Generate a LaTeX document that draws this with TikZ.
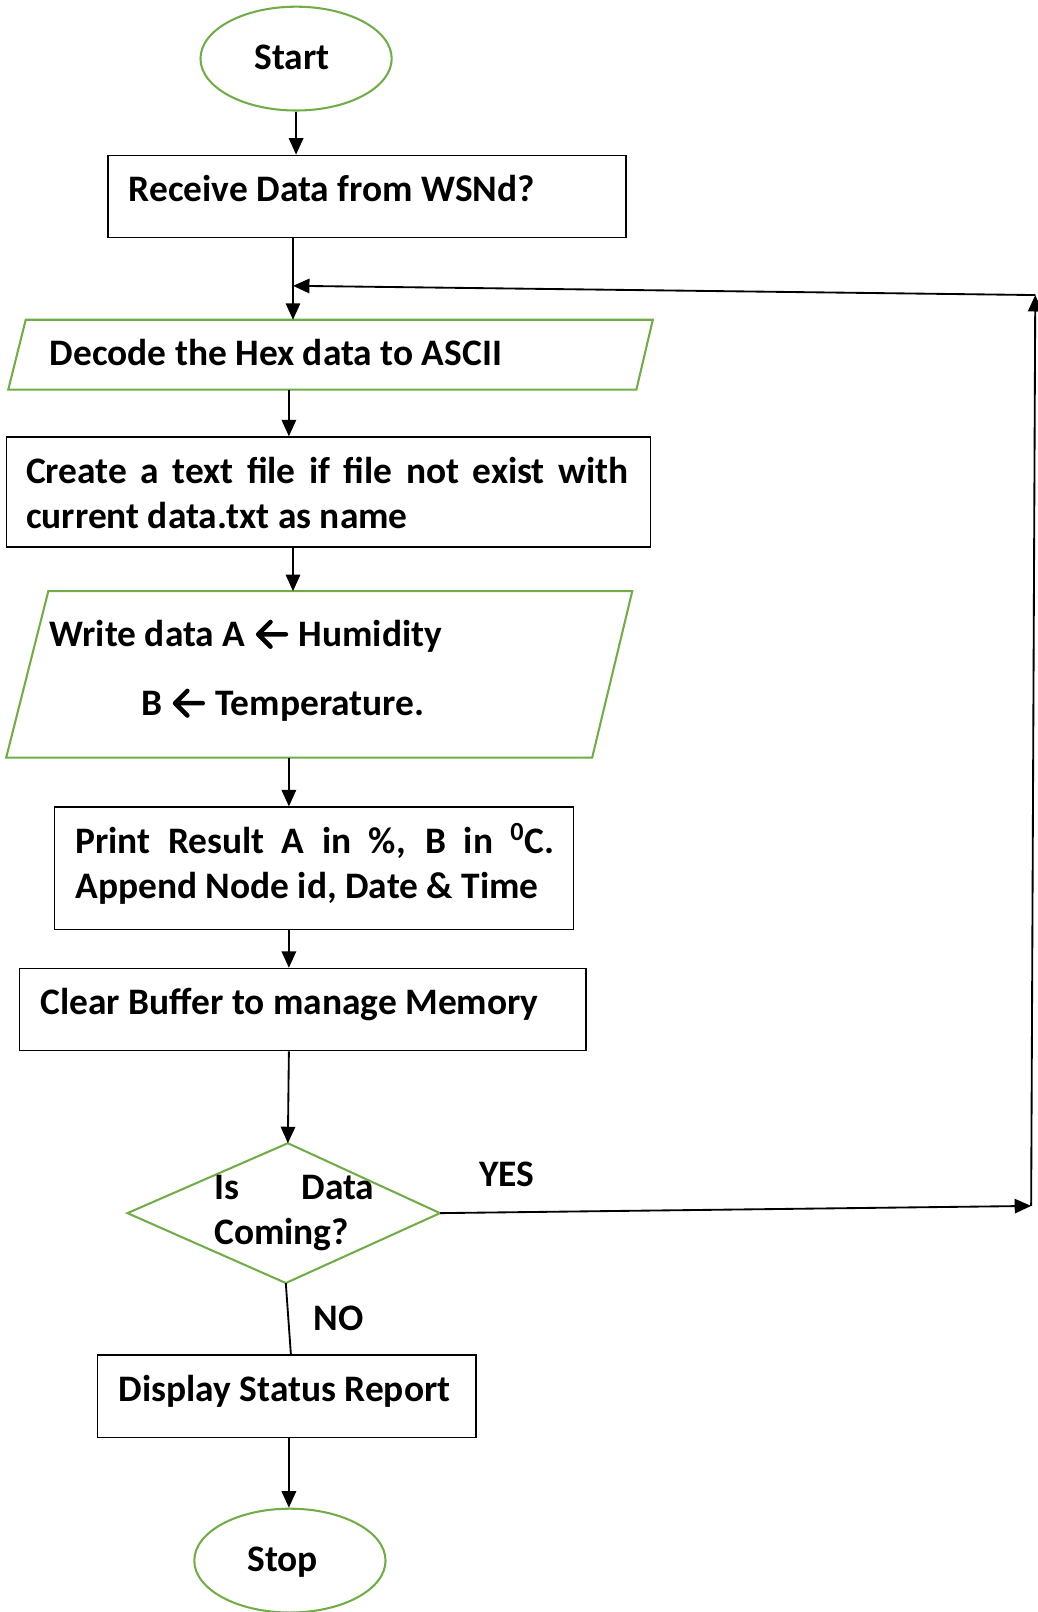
\documentclass[tikz,border=0pt]{standalone}
\usepackage{fontspec}
\setmainfont{Carlito}
\usetikzlibrary{arrows.meta,fit,shapes.geometric}
\definecolor{flowgreen}{RGB}{112,173,71}
% bold left arrow used inside the write step
\newcommand{\larrow}{\hspace{1pt}\tikz[baseline=0pt]\draw[line width=2.2pt, line cap=round, line join=round]
  (15pt,6pt) -- (1.5pt,6pt) (7.5pt,12pt) -- (1.5pt,6pt) -- (7.5pt,0pt);\hspace{1pt}}
\begin{document}
\begin{tikzpicture}[x=0.5pt,y=-0.5pt,
  every node/.style={font=\fontsize{18.2}{22}\selectfont\bfseries},
  box/.style={draw=black, line width=0.6pt, inner sep=0pt, fit={#1}},
  gshape/.style={draw=flowgreen, line width=1pt},
  term/.style={ellipse, draw=flowgreen, line width=1pt, inner sep=0pt, minimum width=93pt, minimum height=50.5pt},
  lbl/.style={anchor=base west, inner sep=0pt},
  flow/.style={draw=black, line width=0.9pt, -{Triangle[length=8pt,width=7pt]}},
  plain/.style={draw=black, line width=0.9pt}]
\useasboundingbox (0,0) rectangle (1009,1568);

% terminals
\node[term] (start) at (288,57) {};
\node[lbl, anchor=base] (tstart) at (284,68) {Start};
\node[term] (stop) at (282,1518) {};
\node[lbl, anchor=base] (tstop) at (275,1529) {Stop};

% process boxes
\node[box={(105,151)(609,231)}] (recv) {};
\node[lbl] (trecv) at (125,196) {Receive Data from WSNd?};

\node[box={(6,425)(633,532)}] (create) {};
\node[lbl] (tcreate1) at (25,470) {\makebox[293pt][s]{Create a text file if file not exist with}};
\node[lbl] (tcreate2) at (25,514) {current data.txt as name};

\node[box={(53,785)(558,904)}] (print) {};
\node[lbl] (tprint1) at (73,830) {\makebox[233pt][s]{Print Result A in \%, B in \textsuperscript{0}C.}};
\node[lbl] (tprint2) at (73,874) {Append Node id, Date \& Time};

\node[box={(19,942)(570,1022)}] (clear) {};
\node[lbl] (tclear) at (39,987) {Clear Buffer to manage Memory};

\node[box={(95,1318)(463,1398)}] (disp) {};
\node[lbl] (tdisp) at (115,1363) {Display Status Report};

% input/output parallelograms
\draw[gshape] (25,311) -- (635,311) -- (619,379) -- (8,379) -- cycle;
\coordinate (dectop) at (285,311);
\coordinate (decbot) at (281,379);
\node[lbl] (tdec) at (48,356) {Decode the Hex data to ASCII};

\draw[gshape] (47,575) -- (615,575) -- (576,737) -- (6,737) -- cycle;
\coordinate (wrtop) at (285,575);
\coordinate (wrbot) at (281,737);
\node[lbl] (twr1) at (48,629) {Write data A \larrow{} Humidity};
\node[lbl] (twr2) at (137,696) {B \larrow{} Temperature.};

% decision
\draw[gshape] (280,1112) -- (428,1180) -- (278,1248) -- (124,1180) -- cycle;
\coordinate (dtop) at (280,1112);
\coordinate (dright) at (428,1180);
\coordinate (dbot) at (278,1248);
\node[lbl] (tis) at (208,1167) {Is};
\node[lbl] (tdata) at (293,1167) {Data};
\node[lbl] (tcoming) at (208,1211) {Coming?};
\node[lbl] (tyes) at (466,1154) {YES};
\node[lbl] (tno) at (305,1294) {NO};

% loop-back route
\coordinate (yesend) at (1003,1173);
\coordinate (looptop) at (1007,287);
\coordinate (loopin) at (285,278);
\coordinate (recvout) at (285,231);
\coordinate (dispin) at (283,1318);

% connectors
\draw[flow] (start.south) -- (recv.north -| start.south);
\draw[flow] (recvout) -- (dectop);
\draw[flow] (decbot) -- (create.north -| decbot);
\draw[flow] (create.south -| wrtop) -- (wrtop);
\draw[flow] (wrbot) -- (print.north -| wrbot);
\draw[flow] (print.south -| wrbot) -- (clear.north -| wrbot);
\draw[flow] (clear.south -| wrbot) -- (dtop);
\draw[plain] (dbot) -- (dispin);
\draw[flow] (dright) -- (yesend);
\draw[flow] (yesend) -- (looptop);
\draw[flow] (looptop) -- (loopin);
\draw[flow] (disp.south -| wrbot) -- (stop.north -| wrbot);
\end{tikzpicture}
\end{document}
